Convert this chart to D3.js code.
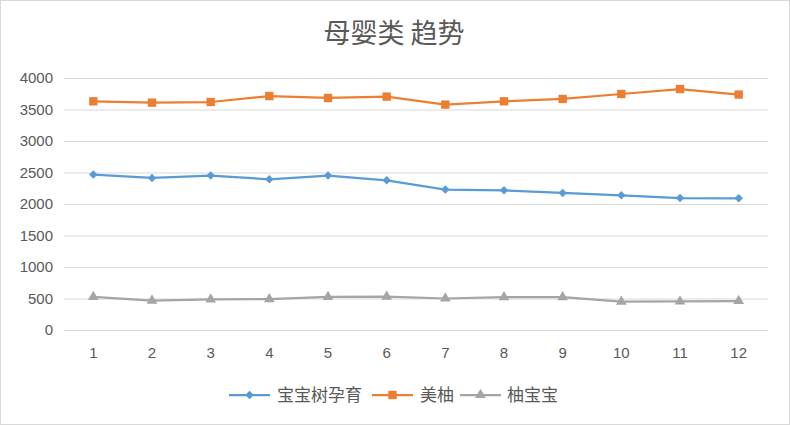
<!DOCTYPE html>
<html><head><meta charset="utf-8">
<script src="https://cdn.jsdelivr.net/npm/d3@7"></script>
<style>
html,body{margin:0;padding:0;background:#fff;}
svg{display:block;}
</style></head>
<body>
<svg id="c" width="790" height="425"></svg>
<script>
const categories = ["1","2","3","4","5","6","7","8","9","10","11","12"];
const seriesNames = ["宝宝树孕育","美柚","柚宝宝"];
const babytree = [2467,2413,2451,2392,2451,2376,2229,2217,2175,2138,2095,2090];
const meiyou = [3630,3609,3619,3714,3683,3705,3578,3630,3667,3746,3825,3737];
const youbaobao = [525,465,485,490,525,530,500,520,520,450,455,460];
const yTicks = [0,500,1000,1500,2000,2500,3000,3500,4000];
const title = "母婴类 趋势";

(function(){
const colors = ["#5b9bd5","#ed7d31","#a5a5a5"];
const symbols = [d3.symbolSquare, d3.symbolSquare, d3.symbolTriangle];
const symRot = [45, 0, 0];
const symSizes = [36, 70, 50];
const series = [babytree, meiyou, youbaobao];

const svg = d3.select("#c");
svg.append("rect").attr("x",0.5).attr("y",0.5).attr("width",789).attr("height",424)
  .attr("fill","#fff").attr("stroke","#d9d9d9");

const pL = 64, pR = 768, pT = 78, pB = 330;
const x = d3.scaleBand().domain(categories).range([pL,pR]);
const y = d3.scaleLinear().domain([0,4000]).range([pB, pT]);

svg.append("text").attr("x",394).attr("y",43).attr("text-anchor","middle")
  .attr("font-family","'Noto Sans CJK SC', sans-serif").attr("font-size",27)
  .attr("fill","#595959").text(title);

const yAxis = d3.axisLeft(y).tickValues(yTicks).tickSize(-(pR-pL)).tickPadding(11).tickFormat(d3.format("d"));
const gy = svg.append("g").attr("transform",`translate(${pL},0)`).call(yAxis);
gy.select(".domain").remove();
gy.selectAll(".tick line").attr("stroke","#d9d9d9").attr("stroke-width",1);
gy.selectAll(".tick text").attr("fill","#595959").attr("font-size",15)
  .attr("font-family","'Liberation Sans', Calibri, sans-serif");

const xAxis = d3.axisBottom(x).tickSize(0).tickPadding(17);
const gx = svg.append("g").attr("transform",`translate(0,${pB})`).call(xAxis);
gx.select(".domain").remove();
gx.selectAll(".tick text").attr("fill","#595959").attr("font-size",15)
  .attr("font-family","'Liberation Sans', Calibri, sans-serif");

const line = d3.line().x((d,i)=>x(categories[i])+x.bandwidth()/2).y(d=>y(d));
series.forEach((s,k)=>{
  svg.append("path").datum(s).attr("d",line).attr("fill","none")
    .attr("stroke",colors[k]).attr("stroke-width",2.25).attr("stroke-linejoin","round");
  svg.selectAll(null).data(s).enter().append("path")
    .attr("d",d3.symbol().type(symbols[k]).size(symSizes[k]))
    .attr("transform",(d,i)=>`translate(${x(categories[i])+x.bandwidth()/2},${y(d)}) rotate(${symRot[k]})`)
    .attr("fill",colors[k]);
});

const legendX = [229, 372, 460];
const textX = [277, 420, 507];
const ly = 395;
seriesNames.forEach((n,k)=>{
  const g = svg.append("g");
  g.append("line").attr("x1",legendX[k]).attr("x2",legendX[k]+41).attr("y1",ly).attr("y2",ly)
    .attr("stroke",colors[k]).attr("stroke-width",2.25);
  g.append("path").attr("d",d3.symbol().type(symbols[k]).size(symSizes[k]))
    .attr("transform",`translate(${legendX[k]+20.5},${ly}) rotate(${symRot[k]})`).attr("fill",colors[k]);
  g.append("text").attr("x",textX[k]).attr("y",ly).attr("dy","0.36em")
    .attr("font-family","'Noto Sans CJK SC', sans-serif").attr("font-size",17)
    .attr("fill","#595959").text(n);
});
})();
</script>
</body></html>
